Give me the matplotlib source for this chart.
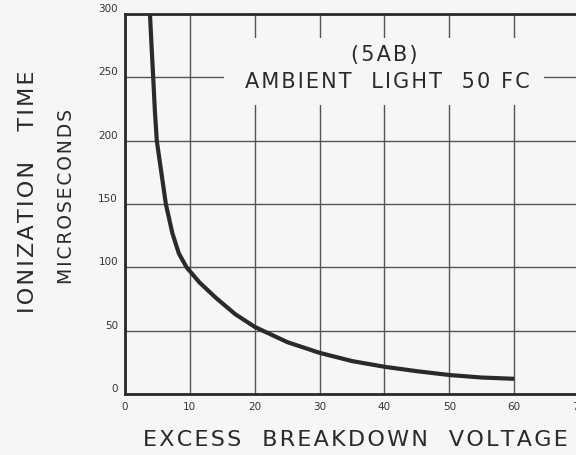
import matplotlib
matplotlib.use("Agg")
import matplotlib.pyplot as plt
from matplotlib.patches import Rectangle

# curve
volts = [3.85, 4.1, 4.35, 4.6, 4.9, 5.6, 6.3, 7.3, 8.3, 9.5, 11.5, 14.0, 17.0,
         20.0, 25.0, 30.0, 35.0, 40.0, 45.0, 50.0, 55.0, 60.0]
times = [300, 274, 250, 224, 200, 175, 150, 127, 111, 100, 88, 76, 63,
         53, 41, 32.5, 26, 21.5, 18, 15, 13, 12]
xticks = [0, 10, 20, 30, 40, 50, 60, 70]
yticks = [0, 50, 100, 150, 200, 250, 300]

bg = "#f6f6f4"
ink = "#2a2a2a"


def spaced(s, gap="\u200a"):
    # crude letter spacing, the original lettering is very open
    return gap.join(s)


fig = plt.figure(figsize=(5.76, 4.55), dpi=100, facecolor=bg)
ax = fig.add_axes([125/576, 1-394/455, 454/576, 380/455], facecolor=bg)

ax.set_xlim(0, 70)
ax.set_ylim(0, 300)
ax.set_xticks(xticks)
ax.set_yticks(yticks)
ax.grid(color="#555555", lw=1.0)
ax.set_axisbelow(True)

# blank patch behind the caption that breaks the grid
ax.add_patch(Rectangle((15.2, 228), 49.4, 53, facecolor=bg, edgecolor="none", zorder=2))

ax.plot(volts, times, color=ink, lw=3.0, solid_capstyle="butt", zorder=3, clip_on=False)

ax.text(40, 268, spaced("(5AB)"), ha="center", va="center", fontsize=15, color=ink, zorder=4)
ax.text(40.5, 246, spaced("AMBIENT  LIGHT  50 FC"), ha="center", va="center",
        fontsize=15, color=ink, zorder=4)

for s in ax.spines.values():
    s.set_color(ink)
    s.set_linewidth(2.0)

ax.tick_params(length=0)
ax.tick_params(axis="x", labelsize=7.5, colors="#333333", pad=6)
ax.tick_params(axis="y", labelsize=7.5, colors="#333333", pad=5)
ax.set_xticklabels([str(t) for t in xticks])
ax.set_yticklabels([str(t) for t in yticks], va="bottom")

fig.text(355/576, 1-440/455, spaced("EXCESS  BREAKDOWN  VOLTAGE"), ha="center",
         va="center", fontsize=16, color=ink)
fig.text(28/576, 1-192/455, spaced("IONIZATION   TIME"), ha="center", va="center",
         rotation=90, fontsize=16, color=ink)
fig.text(66/576, 1-197/455, spaced("MICROSECONDS"), ha="center", va="center",
         rotation=90, fontsize=13.5, color=ink)

fig.savefig("out.png", dpi=100, facecolor=bg)
